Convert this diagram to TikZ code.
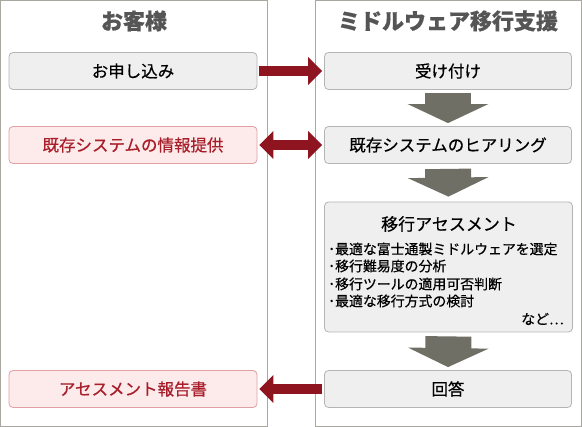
\documentclass[tikz,border=0pt]{standalone}
\usepackage{fontspec}
\setmainfont{Noto Sans CJK JP}[FakeBold=0.5]
\usetikzlibrary{arrows.meta}
\definecolor{panelline}{HTML}{A8A8A0}
\definecolor{boxfill}{HTML}{EFEFEF}
\definecolor{boxline}{HTML}{B4B4B4}
\definecolor{pinkfill}{HTML}{FDEAEA}
\definecolor{pinkline}{HTML}{E0A0A4}
\definecolor{redtext}{HTML}{A81E2A}
\definecolor{redarrow}{HTML}{8E1420}
\definecolor{grayarrow}{HTML}{6F6F66}
\definecolor{headtext}{HTML}{555555}
\tikzset{
  panel/.style={draw=panelline, line width=1pt},
  box/.style={draw=boxline, fill=boxfill, rounded corners=4pt, line width=0.8pt,
    minimum width=248pt, minimum height=37pt, inner sep=0pt, font=\fontsize{16.5}{20}\selectfont},
  pinkbox/.style={box, draw=pinkline, fill=pinkfill, text=redtext},
  head/.style={font=\fontsize{22}{26}\selectfont\bfseries, text=headtext},
  redarr/.style={draw=redarrow, line width=10pt, -{Triangle[width=27pt,length=14pt]}},
  redarr2/.style={draw=redarrow, line width=10pt, {Triangle[width=27pt,length=14pt]}-{Triangle[width=27pt,length=14pt]}},
  grayarr/.style={draw=grayarrow, line width=46pt, -{Triangle[width=80pt,length=19pt]}},
  item/.style={anchor=west, inner sep=0pt, font=\fontsize{13.9}{16}\selectfont}
}
\begin{document}
\begin{tikzpicture}[x=1pt,y=-1pt]
\useasboundingbox (0,0) rectangle (582,427);
\draw[panel] (0.5,0.5) rectangle (267.5,426.5);
\draw[panel] (315.5,0.5) rectangle (581.5,426.5);
\node[head] (hl) at (134,21) {お客様};
\node[head] (hr) at (448,21) {ミドルウェア移行支援};
% left boxes
\node[box] (apply) at (133,71) {お申し込み};
\node[pinkbox] (info) at (133,145) {既存システムの情報提供};
\node[pinkbox] (report) at (133,389) {アセスメント報告書};
% right boxes
\node[box, minimum width=247pt] (recv) at (448,71) {受け付け};
\node[box, minimum width=247pt] (hear) at (448,145) {既存システムのヒアリング};
\node[box, minimum width=248pt, minimum height=130pt] (assess) at (448.5,267) {};
\node[box, minimum width=247pt] (ans) at (448,389) {回答};
% assessment contents
\node[inner sep=0pt, font=\fontsize{17}{20}\selectfont] (atitle) at (449,224) {移行アセスメント};
\node[item] (i1) at (328,249) {･最適な富士通製ミドルウェアを選定};
\node[item] (i2) at (328,266) {･移行難易度の分析};
\node[item] (i3) at (328,284) {･移行ツールの適用可否判断};
\node[item] (i4) at (328,301) {･最適な移行方式の検討};
\node[item, anchor=east] (etc) at (564,319) {など…};
% gray arrows
\draw[grayarr, shorten <=3pt, shorten >=3pt] (recv.south) -- (hear.north);
\draw[grayarr, shorten <=5pt, shorten >=5pt] (hear.south) -- (assess.north);
\draw[grayarr, shorten <=4pt, shorten >=3pt] (assess.south) -- (ans.north);
% red arrows
\draw[redarr, shorten <=2pt, shorten >=2pt] (apply.east) -- (recv.west);
\draw[redarr2, shorten <=2pt, shorten >=2pt] (info.east) -- (hear.west);
\draw[redarr, shorten <=2pt, shorten >=2pt] (ans.west) -- (report.east);
\end{tikzpicture}
\end{document}
